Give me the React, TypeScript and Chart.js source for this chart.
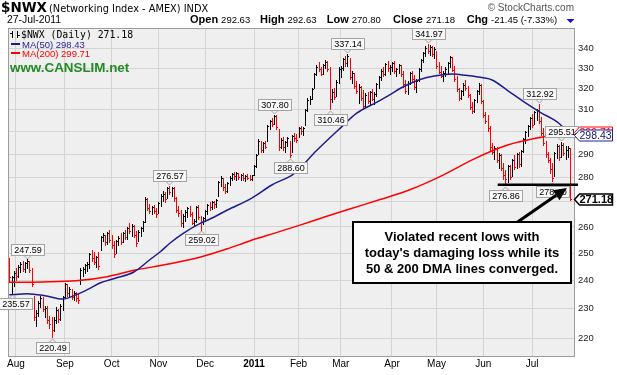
import React, { useEffect, useRef } from 'react';
import { Chart, registerables } from 'chart.js';

Chart.register(...registerables);

// ---- Data ----
const highs = [
  248.0, 241.5, 243.5, 244.5, 245.5, 246.5, 247.0, 246.8, 247.6, 247.2,
  244.5, 234.5, 229.5, 232.5, 234.4, 234.0, 230.8, 231.0, 227.5, 227.0,
  227.0, 230.5, 229.8, 231.5, 234.5, 239.0, 238.5, 237.5, 237.0, 236.0,
  235.8, 235.0, 244.5, 245.0, 246.0, 246.5, 250.0, 251.0, 250.5, 249.0,
  250.5, 256.5, 257.5, 257.0, 258.0, 258.8, 257.0, 254.5, 255.0, 256.5,
  257.5, 258.0, 259.0, 260.0, 261.5, 261.0, 260.8, 258.5, 259.0, 260.0,
  262.5, 272.0, 271.5, 269.0, 268.5, 268.8, 267.5, 270.0, 273.0, 274.5,
  274.0, 276.0, 276.6, 276.2, 276.0, 272.0, 268.5, 266.5, 265.0, 266.5,
  268.0, 268.5, 266.0, 263.0, 268.5, 268.8, 264.5, 264.0, 266.5, 269.0,
  270.0, 270.5, 270.5, 271.0, 278.5, 280.5, 280.0, 277.5, 278.0, 280.5,
  282.0, 282.5, 282.3, 282.0, 281.5, 281.8, 281.0, 281.5, 281.0, 281.2,
  285.5, 290.0, 296.5, 296.0, 295.5, 296.0, 303.0, 305.5, 306.0, 307.8,
  307.5, 301.0, 297.0, 297.5, 296.0, 297.8, 296.0, 298.5, 299.6, 299.0,
  302.0, 302.5, 302.0, 310.5, 315.5, 316.5, 320.5, 327.5, 331.5, 333.0,
  330.5, 332.0, 334.0, 333.5, 330.5, 320.0, 320.5, 324.0, 330.5, 331.0,
  335.0, 336.0, 337.1, 335.0, 328.5, 327.5, 323.5, 322.0, 321.5, 319.5,
  318.0, 318.5, 319.0, 320.0, 318.5, 322.5, 326.0, 329.5, 330.5, 332.5,
  333.5, 331.5, 333.0, 333.5, 330.0, 332.0, 331.8, 328.5, 324.0, 323.5,
  328.0, 328.5, 326.5, 324.5, 330.0, 334.5, 338.0, 341.0, 342.0, 341.5,
  341.2, 340.5, 338.5, 333.0, 331.0, 328.5, 330.5, 333.0, 336.0, 335.5,
  331.0, 326.0, 320.5, 319.5, 322.5, 324.0, 321.5, 317.5, 313.5, 315.0,
  319.5, 322.5, 322.0, 314.5, 309.0, 307.5, 302.5, 295.0, 293.5, 293.0,
  290.5, 290.0, 286.0, 283.0, 285.5, 285.5, 288.0, 289.5, 290.5, 290.8,
  292.0, 297.0, 300.5, 303.0, 306.5, 308.0, 309.5, 310.5, 312.9, 306.5,
  301.5, 296.0, 291.0, 288.5, 286.0, 291.0, 294.5, 294.0, 295.5, 294.8,
  293.5, 293.5, 292.63,
];
const lows = [
  239.5, 235.6, 238.0, 240.0, 241.0, 243.0, 243.5, 243.0, 244.5, 243.0,
  238.0, 226.0, 224.0, 227.5, 230.5, 229.0, 227.0, 225.0, 223.5, 220.5,
  222.5, 225.0, 225.5, 226.0, 229.5, 234.0, 234.5, 234.0, 233.5, 233.0,
  232.5, 232.0, 238.5, 241.5, 242.5, 243.5, 244.5, 247.0, 246.0, 245.0,
  244.0, 251.0, 254.5, 253.0, 253.5, 254.0, 252.0, 248.5, 250.0, 253.0,
  253.5, 254.0, 255.5, 255.5, 257.5, 256.5, 256.0, 252.5, 254.5, 256.5,
  258.5, 262.0, 266.5, 265.5, 265.0, 265.5, 264.0, 265.5, 268.5, 270.5,
  270.0, 271.5, 273.0, 272.5, 270.5, 266.0, 264.5, 260.5, 260.0, 262.5,
  264.0, 264.5, 261.0, 260.5, 262.0, 263.0, 259.0, 261.0, 262.5, 265.0,
  266.5, 267.0, 267.5, 268.0, 272.5, 276.5, 275.0, 273.5, 274.0, 277.0,
  279.0, 279.5, 279.0, 279.5, 279.0, 279.0, 278.5, 279.5, 278.8, 279.0,
  281.0, 284.5, 290.0, 291.0, 291.0, 292.5, 296.0, 301.0, 302.5, 303.5,
  301.0, 292.0, 292.5, 292.0, 291.0, 293.5, 288.6, 291.0, 296.0, 295.5,
  297.5, 299.0, 298.5, 303.0, 309.5, 312.5, 315.0, 320.5, 326.5, 328.5,
  326.5, 327.0, 330.0, 328.5, 310.5, 313.5, 315.0, 316.5, 322.5, 325.5,
  329.0, 331.0, 331.0, 324.5, 322.5, 320.5, 318.0, 313.0, 314.5, 310.5,
  311.5, 313.0, 312.5, 314.5, 312.5, 316.5, 320.5, 324.0, 326.0, 326.5,
  328.5, 327.0, 328.5, 327.5, 326.0, 327.5, 326.0, 321.0, 318.0, 317.5,
  322.0, 323.5, 320.0, 318.5, 323.5, 328.5, 333.0, 336.0, 337.5, 336.5,
  336.0, 335.0, 330.0, 327.5, 325.5, 323.5, 326.0, 327.5, 330.5, 328.5,
  323.5, 319.0, 314.5, 315.0, 317.0, 319.5, 316.0, 310.5, 308.5, 309.0,
  313.5, 317.5, 313.0, 306.5, 304.0, 300.5, 292.0, 290.0, 288.0, 286.5,
  284.0, 283.0, 279.5, 276.9, 278.0, 279.5, 280.5, 283.5, 284.0, 284.5,
  285.0, 291.0, 295.0, 298.0, 301.0, 302.0, 303.5, 305.5, 304.0, 298.5,
  294.0, 289.0, 286.5, 282.0, 278.4, 280.5, 288.5, 287.5, 289.0, 289.5,
  288.0, 289.0, 270.8,
];
const closes = [
  241.0, 241.2, 242.8, 241.5, 244.8, 245.9, 244.2, 246.2, 246.9, 243.8,
  238.8, 227.2, 228.6, 231.8, 233.6, 229.8, 230.2, 226.0, 224.6, 222.8,
  226.2, 229.6, 226.4, 230.9, 234.0, 238.6, 235.5, 236.8, 234.2, 235.4,
  233.6, 233.0, 243.8, 244.2, 245.6, 246.0, 249.5, 248.2, 246.8, 248.6,
  245.2, 256.0, 256.8, 254.2, 257.5, 255.0, 253.0, 249.5, 254.4, 255.8,
  254.0, 257.6, 256.2, 259.4, 258.5, 260.2, 257.0, 253.8, 258.2, 259.6,
  262.0, 271.2, 267.5, 266.2, 267.8, 266.4, 265.2, 269.5, 272.5, 273.0,
  271.2, 275.5, 274.2, 275.8, 271.4, 266.8, 265.5, 261.4, 264.2, 265.8,
  267.4, 265.0, 261.5, 262.5, 268.0, 264.0, 261.8, 263.5, 266.2, 268.6,
  267.8, 270.0, 269.2, 270.6, 278.0, 279.8, 276.0, 274.5, 277.6, 280.0,
  281.5, 280.8, 281.8, 280.4, 281.0, 279.8, 280.6, 280.0, 279.6, 280.9,
  285.0, 289.5, 295.8, 292.0, 294.8, 293.2, 302.5, 304.8, 303.6, 307.2,
  302.0, 293.0, 296.4, 293.0, 295.2, 297.0, 289.8, 298.0, 297.0, 296.4,
  301.5, 300.2, 301.6, 310.0, 314.8, 315.2, 320.0, 327.0, 330.5, 329.4,
  327.2, 331.5, 333.0, 329.6, 315.0, 318.6, 316.0, 323.2, 329.8, 330.2,
  334.5, 332.5, 336.2, 325.5, 327.6, 321.2, 319.0, 320.8, 315.5, 312.0,
  317.0, 314.2, 318.2, 315.0, 317.6, 322.0, 325.5, 328.8, 327.2, 332.0,
  330.0, 330.8, 332.4, 328.5, 329.5, 331.6, 327.0, 322.2, 319.0, 322.8,
  327.5, 324.5, 321.0, 323.8, 329.5, 334.0, 337.6, 340.2, 338.4, 340.6,
  337.0, 339.8, 331.0, 328.2, 326.0, 327.8, 329.6, 332.4, 335.4, 329.0,
  324.6, 320.0, 315.5, 318.8, 321.8, 320.4, 317.0, 311.5, 309.6, 314.5,
  319.0, 321.6, 314.0, 307.5, 305.0, 301.5, 293.0, 291.0, 292.6, 287.4,
  289.8, 284.0, 281.0, 279.2, 285.0, 280.4, 287.4, 284.6, 290.0, 285.6,
  291.4, 296.5, 300.0, 302.6, 306.0, 303.0, 309.0, 309.8, 305.0, 299.6,
  295.0, 290.2, 287.4, 283.6, 280.0, 290.4, 293.8, 288.6, 294.2, 290.6,
  292.0, 292.63, 271.18,
];

const monthIdx = [3, 25, 46, 67, 88, 110, 130, 149, 172, 192, 213, 235];
const monthLabels = ['Aug', 'Sep', 'Oct', 'Nov', 'Dec', '2011', 'Feb', 'Mar', 'Apr', 'May', 'Jun', 'Jul'];
const yTicks = [220, 230, 240, 250, 260, 270, 280, 290, 300, 310, 320, 330, 340];

const ma50Idx = [0, 8, 16, 24, 30, 36, 41, 48, 56, 63, 68, 72, 78, 86, 90, 98, 109, 118, 128, 138, 149, 156, 165, 171, 176, 184, 191, 199, 205, 213, 217, 224, 232, 239, 247, 252];
const ma50Val = [234.8, 235.2, 234.5, 233.3, 234.8, 237.0, 239.1, 240.8, 243.0, 247.4, 250.6, 253.6, 257.4, 261.5, 263.0, 266.7, 271.5, 276.9, 281.7, 291.5, 301.8, 308.3, 313.5, 317.0, 320.3, 324.2, 326.1, 327.1, 326.5, 325.3, 324.2, 319.1, 313.2, 308.6, 303.8, 298.43];
const ma200Idx = [0, 15, 30, 44, 56, 71, 86, 98, 108, 120, 131, 142, 153, 167, 180, 194, 209, 224, 239, 252];
const ma200Val = [239.3, 239.4, 239.8, 241.3, 243.6, 245.8, 248.5, 251.6, 254.6, 257.8, 260.8, 264.0, 267.1, 271.0, 274.9, 280.6, 288.0, 294.0, 297.5, 299.71];

const markIdx = [8, 1, 19, 72, 86, 119, 126, 152, 144, 188, 238, 223, 244, 248];
const markVal = [247.59, 235.57, 220.49, 276.57, 259.02, 307.8, 288.6, 337.14, 310.46, 341.97, 312.92, 276.86, 278.4, 295.51];
const markSide = ['up', 'down', 'down', 'up', 'down', 'up', 'down', 'up', 'down', 'up', 'up', 'down', 'down', 'up'];

const lastClose = 271.18;
const lastMA50 = 298.43;
const lastMA200 = 299.71;
const supportLevel = 277.0;
const supportFrom = 219.5;
const arrowFrom = [226.5, 260.8];
const arrowTo = [250.6, 275.7];
const noteLines = ['Violated recent lows with', "today's damaging loss while its", '50 & 200 DMA lines converged.'];

const SANS = '"Liberation Sans", Arial, sans-serif';
const DEJA = '"DejaVu Sans", Verdana, sans-serif';
const MONO = '"DejaVu Sans Mono", monospace';

const barColor = (i: number) => (i === 0 ? '#ff0000' : closes[i] >= closes[i - 1] ? '#000000' : '#ff0000');

const bgPlugin = {
  id: 'bgPlugin',
  beforeDraw(chart: any) {
    const { ctx, chartArea: a } = chart;
    ctx.save();
    ctx.fillStyle = '#ffffff';
    ctx.fillRect(0, 0, chart.width, chart.height);
    ctx.fillStyle = '#efefef';
    ctx.fillRect(a.left, a.top, a.right - a.left, a.bottom - a.top);
    ctx.restore();
  },
  beforeDatasetsDraw(chart: any) {
    const { ctx, chartArea: a } = chart;
    ctx.save();
    ctx.strokeStyle = '#9c9c9c';
    ctx.lineWidth = 1;
    ctx.strokeRect(a.left + 0.5, a.top + 0.5, a.right - a.left, a.bottom - a.top);
    ctx.restore();
  },
};

const ohlcPlugin = {
  id: 'ohlcPlugin',
  afterDatasetDraw(chart: any, args: any) {
    if (args.index !== 0) return;
    const { ctx, chartArea: a } = chart;
    const ys = chart.scales.y;
    const meta = chart.getDatasetMeta(0);
    ctx.save();
    ctx.beginPath();
    ctx.rect(a.left, a.top, a.right - a.left, a.bottom - a.top);
    ctx.clip();
    ctx.lineWidth = 1;
    meta.data.forEach((el: any, i: number) => {
      const xr = Math.round(el.x);
      const yh = Math.round(ys.getPixelForValue(highs[i]));
      const yl = Math.round(ys.getPixelForValue(lows[i]));
      const yc = Math.round(ys.getPixelForValue(closes[i])) + 0.5;
      ctx.strokeStyle = barColor(i);
      ctx.beginPath();
      ctx.moveTo(xr + 0.5, yh);
      ctx.lineTo(xr + 0.5, yl + 1);
      ctx.moveTo(xr + 1, yc);
      ctx.lineTo(xr + 2, yc);
      ctx.stroke();
    });
    ctx.restore();
  },
};

const overlayPlugin = {
  id: 'overlayPlugin',
  afterDraw(chart: any) {
    const { ctx, chartArea: a } = chart;
    const xs = chart.scales.x;
    const ys = chart.scales.y;
    ctx.save();

    // peak / trough labels
    ctx.font = `9px ${SANS}`;
    ctx.lineWidth = 1;
    markIdx.forEach((mi, k) => {
      const px = Math.round(xs.getPixelForValue(mi));
      const py = Math.round(ys.getPixelForValue(markVal[k]));
      const text = markVal[k].toFixed(2);
      const w = Math.ceil(ctx.measureText(text).width) + 5;
      const h = 11;
      let left = Math.round(px - w / 2);
      if (left < -1) left = -1;
      const top = markSide[k] === 'up' ? py - 5 - h : py + 5;
      ctx.fillStyle = '#f8f8f8';
      ctx.strokeStyle = '#a4a4a4';
      ctx.fillRect(left + 0.5, top + 0.5, w, h);
      ctx.strokeRect(left + 0.5, top + 0.5, w, h);
      ctx.beginPath();
      if (markSide[k] === 'up') {
        ctx.moveTo(px - 3, top + h + 0.5);
        ctx.lineTo(px + 0.5, top + h + 4);
        ctx.lineTo(px + 4, top + h + 0.5);
      } else {
        ctx.moveTo(px - 3, top + 0.5);
        ctx.lineTo(px + 0.5, top - 3);
        ctx.lineTo(px + 4, top + 0.5);
      }
      ctx.stroke();
      ctx.fillStyle = '#000';
      ctx.textAlign = 'center';
      ctx.textBaseline = 'middle';
      ctx.fillText(text, left + w / 2 + 0.5, top + h / 2 + 1);
    });

    // support line
    const sy = ys.getPixelForValue(supportLevel);
    ctx.strokeStyle = '#000';
    ctx.lineWidth = 2.5;
    ctx.beginPath();
    ctx.moveTo(xs.getPixelForValue(supportFrom), sy);
    ctx.lineTo(a.right + 4, sy);
    ctx.stroke();

    // price tags on the right
    const tag = (val: number, border: string, color: string, font: string, lw: number) => {
      const y = Math.round(ys.getPixelForValue(val)) + 0.5;
      const x0 = a.right + 0.5;
      const hh = 5.5;
      ctx.beginPath();
      ctx.moveTo(x0, y);
      ctx.lineTo(x0 + 5, y - hh);
      ctx.lineTo(612.5, y - hh);
      ctx.lineTo(612.5, y + hh);
      ctx.lineTo(x0 + 5, y + hh);
      ctx.closePath();
      ctx.fillStyle = '#ffffff';
      ctx.fill();
      ctx.strokeStyle = border;
      ctx.lineWidth = lw;
      ctx.stroke();
      ctx.fillStyle = color;
      ctx.font = font;
      ctx.textAlign = 'left';
      ctx.textBaseline = 'middle';
      ctx.fillText(val.toFixed(2), x0 + 5, y + 0.5);
    };
    tag(lastMA200, '#ff0000', '#ff0000', `10.5px ${SANS}`, 1);
    tag(lastMA50, '#1c1ca0', '#10106a', `10.5px ${SANS}`, 1);
    tag(lastClose, '#000000', '#000000', `bold 11px ${SANS}`, 1.5);

    // arrow
    const ax0 = xs.getPixelForValue(arrowFrom[0]);
    const ay0 = ys.getPixelForValue(arrowFrom[1]);
    const ax1 = xs.getPixelForValue(arrowTo[0]);
    const ay1 = ys.getPixelForValue(arrowTo[1]);
    const ang = Math.atan2(ay1 - ay0, ax1 - ax0);
    const hl = 13;
    const hw = 6;
    const bx = ax1 - hl * Math.cos(ang);
    const by = ay1 - hl * Math.sin(ang);
    ctx.strokeStyle = '#000';
    ctx.lineWidth = 3;
    ctx.beginPath();
    ctx.moveTo(ax0, ay0);
    ctx.lineTo(bx, by);
    ctx.stroke();
    ctx.fillStyle = '#000';
    ctx.beginPath();
    ctx.moveTo(ax1, ay1);
    ctx.lineTo(bx + hw * Math.sin(ang), by - hw * Math.cos(ang));
    ctx.lineTo(bx - hw * Math.sin(ang), by + hw * Math.cos(ang));
    ctx.closePath();
    ctx.fill();

    // note box
    ctx.fillStyle = '#ffffff';
    ctx.fillRect(353, 222, 218, 61);
    ctx.strokeStyle = '#000';
    ctx.lineWidth = 2;
    ctx.strokeRect(353, 222, 218, 61);
    ctx.fillStyle = '#000';
    ctx.font = `bold 13px ${SANS}`;
    ctx.textAlign = 'center';
    ctx.textBaseline = 'alphabetic';
    noteLines.forEach((t, k) => ctx.fillText(t, 462, 241 + k * 16));

    // header
    ctx.textAlign = 'left';
    ctx.fillStyle = '#000';
    ctx.font = `bold 13.5px ${DEJA}`;
    ctx.fillText('$NWX', 1, 12);
    ctx.font = `9.8px ${DEJA}`;
    ctx.fillText('(Networking Index - AMEX) INDX', 49, 12);
    ctx.font = `10px ${SANS}`;
    ctx.fillStyle = '#555';
    ctx.textAlign = 'right';
    ctx.fillText('\u00A9 StockCharts.com', 574, 11);
    ctx.textAlign = 'left';
    ctx.fillStyle = '#000';
    ctx.font = `10.4px ${SANS}`;
    ctx.fillText('27-Jul-2011', 7, 23);
    const stats: [string, number, string][] = [
      ['Open', 190, '292.63'],
      ['High', 260, '292.63'],
      ['Low', 326.7, '270.80'],
      ['Close', 393, '271.18'],
      ['Chg', 466.7, '-21.45 (-7.33%)'],
    ];
    stats.forEach(([lab, x, num]) => {
      ctx.font = `bold 11px ${SANS}`;
      ctx.fillText(lab, x, 23);
      const w = ctx.measureText(lab).width;
      ctx.font = `9.5px ${SANS}`;
      ctx.fillText(num, x + w + 3, 23);
    });
    ctx.fillStyle = '#1010d0';
    ctx.beginPath();
    ctx.moveTo(566.5, 19);
    ctx.lineTo(574.5, 19);
    ctx.lineTo(570.5, 23);
    ctx.closePath();
    ctx.fill();

    // legend in plot
    ctx.strokeStyle = '#000';
    ctx.lineWidth = 1;
    ctx.beginPath();
    ctx.moveTo(12.5, 31); ctx.lineTo(12.5, 38);
    ctx.moveTo(10, 33.5); ctx.lineTo(12.5, 33.5);
    ctx.moveTo(17.5, 31); ctx.lineTo(17.5, 38);
    ctx.moveTo(17.5, 35.5); ctx.lineTo(20, 35.5);
    ctx.stroke();
    ctx.fillStyle = '#000';
    ctx.font = `9.8px ${MONO}`;
    ctx.fillText('$NWX (Daily) 271.18', 21, 38);
    ctx.lineWidth = 2;
    ctx.strokeStyle = '#1c1c8c';
    ctx.beginPath(); ctx.moveTo(11, 44); ctx.lineTo(20, 44); ctx.stroke();
    ctx.strokeStyle = '#ff0000';
    ctx.beginPath(); ctx.moveTo(11, 53); ctx.lineTo(20, 53); ctx.stroke();
    ctx.font = `9.5px ${SANS}`;
    ctx.fillStyle = '#1f1f99';
    ctx.fillText('MA(50) 298.43', 22, 48);
    ctx.fillStyle = '#ff0000';
    ctx.fillText('MA(200) 299.71', 22, 57);
    ctx.font = `bold 13.4px ${SANS}`;
    ctx.fillStyle = '#228b22';
    ctx.fillText('www.CANSLIM.net', 10, 72);

    ctx.restore();
  },
};

export default function App() {
  const canvasRef = useRef<HTMLCanvasElement | null>(null);

  useEffect(() => {
    const canvas = canvasRef.current;
    if (!canvas) return;
    const chart = new Chart(canvas, {
      type: 'bar',
      data: {
        datasets: [
          {
            type: 'bar',
            label: '$NWX',
            data: highs.map((h, i) => ({ x: i, y: [lows[i], h] })) as any,
            backgroundColor: 'rgba(0,0,0,0)',
            borderWidth: 0,
            barThickness: 1,
            grouped: false,
            order: 3,
          } as any,
          {
            type: 'line',
            label: 'MA(200)',
            data: ma200Idx.map((x, k) => ({ x, y: ma200Val[k] })),
            borderColor: '#ff0000',
            borderWidth: 1.5,
            pointRadius: 0,
            cubicInterpolationMode: 'monotone',
            order: 2,
          } as any,
          {
            type: 'line',
            label: 'MA(50)',
            data: ma50Idx.map((x, k) => ({ x, y: ma50Val[k] })),
            borderColor: '#1c1c8c',
            borderWidth: 1.5,
            pointRadius: 0,
            cubicInterpolationMode: 'monotone',
            order: 1,
          } as any,
        ],
      },
      options: {
        responsive: false,
        animation: false,
        devicePixelRatio: 1,
        layout: { padding: { left: 8, top: 28, right: 0, bottom: 0 } },
        plugins: { legend: { display: false }, tooltip: { enabled: false } },
        scales: {
          x: {
            type: 'linear',
            min: -0.584,
            max: 253.8,
            offset: false,
            afterBuildTicks: (s: any) => {
              s.ticks = monthIdx.map((v) => ({ value: v }));
            },
            afterFit: (s: any) => {
              s.height = 19;
            },
            grid: { color: '#d4d4d4', drawTicks: false, offset: false },
            border: { display: false },
            ticks: {
              padding: 2,
              autoSkip: false,
              maxRotation: 0,
              color: '#000',
              font: (c: any) => ({
                family: SANS,
                size: 10,
                weight: monthLabels[monthIdx.indexOf(c.tick?.value)] === '2011' ? 'bold' : 'normal',
              }),
              callback: (v: any) => monthLabels[monthIdx.indexOf(v)] ?? '',
            },
          } as any,
          y: {
            type: 'logarithmic',
            position: 'right',
            min: 214.2,
            max: 350.5,
            afterBuildTicks: (s: any) => {
              s.ticks = yTicks.map((v) => ({ value: v }));
            },
            afterFit: (s: any) => {
              s.width = 43;
            },
            grid: { color: '#d4d4d4', drawTicks: false },
            border: { display: false },
            ticks: {
              padding: 4,
              color: '#222',
              font: { family: SANS, size: 9.5 },
              callback: (v: any) => String(v),
            },
          } as any,
        },
      },
      plugins: [bgPlugin, ohlcPlugin, overlayPlugin],
    });
    return () => chart.destroy();
  }, []);

  return (
    <div style={{ position: 'absolute', left: 0, top: 0, width: 617, height: 375, background: '#fff' }}>
      <canvas ref={canvasRef} width={617} height={375} style={{ width: 617, height: 375, display: 'block' }} />
    </div>
  );
}
